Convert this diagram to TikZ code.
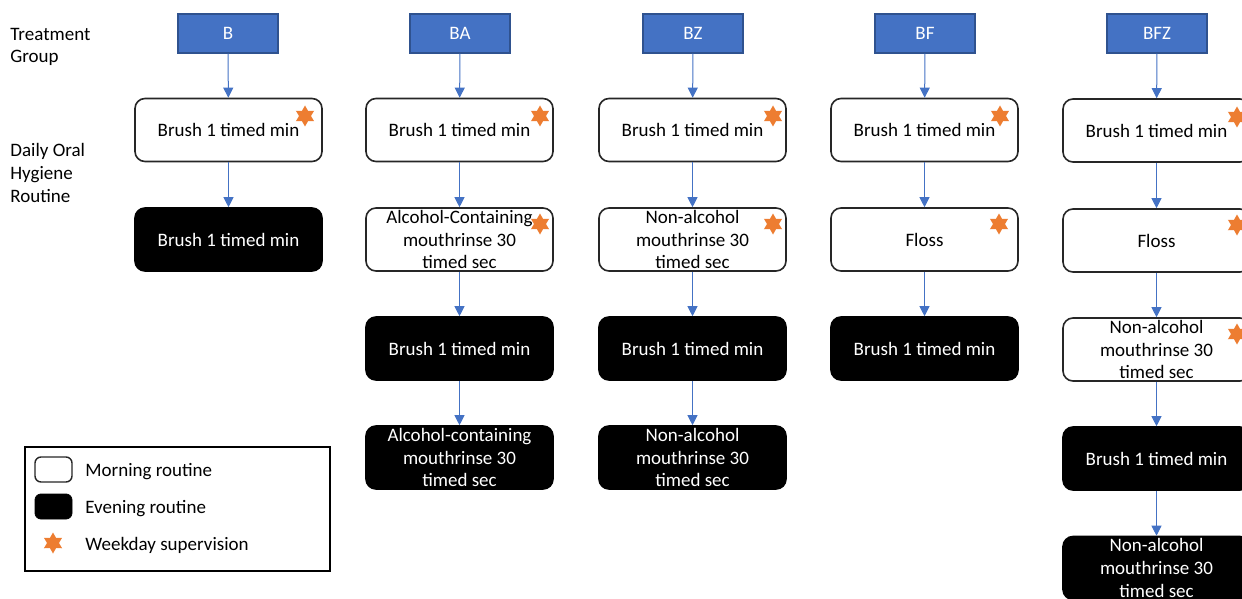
\documentclass[tikz,border=0pt]{standalone}
\usepackage{fontspec}
\setmainfont{Carlito}
\usetikzlibrary{shapes.geometric,arrows.meta}
\definecolor{grpblue}{HTML}{4472C4}
\definecolor{grpedge}{HTML}{2F528F}
\definecolor{starorange}{HTML}{ED7D31}
\definecolor{boxedge}{HTML}{262626}
\tikzset{
  txt/.style={font=\fontsize{9.5}{11.4}\selectfont},
  grp/.style={txt, rectangle, fill=grpblue, draw=grpedge, line width=0.6pt, text=white, minimum width=50pt, minimum height=19.5pt, inner sep=0pt},
  morn/.style={txt, rectangle, rounded corners=5pt, draw=boxedge, line width=0.8pt, fill=white, minimum width=93.5pt, minimum height=31.5pt, inner sep=0pt, align=center},
  eve/.style={txt, rectangle, rounded corners=5pt, draw=black, line width=0.8pt, fill=black, text=white, minimum width=93.5pt, minimum height=31.5pt, inner sep=0pt, align=center},
  supstar/.style={star, star points=6, star point ratio=1.75, fill=starorange, minimum size=10.5pt, inner sep=0pt},
  conn/.style={draw=grpblue, line width=0.5pt, -{Triangle[width=5pt,length=5pt]}},
  lbl/.style={txt, anchor=west, align=left, inner sep=0pt}
}
\begin{document}
\begin{tikzpicture}[x=0.5pt,y=-0.5pt]
\useasboundingbox (0,0) rectangle (1242,599);
% left labels
\node[lbl, font=\fontsize{9.5}{11}\selectfont, anchor=north west] (lblgroup) at (10,28) {Treatment\\Group};
\node[lbl, font=\fontsize{9.5}{11.5}\selectfont, anchor=north west] (lbldaily) at (10,143) {Daily Oral\\Hygiene\\Routine};
% group boxes
\node[grp] (gB) at (228,33.5) {B};
\node[grp] (gBA) at (460,33.5) {BA};
\node[grp] (gBZ) at (693,33.5) {BZ};
\node[grp] (gBF) at (925,33.5) {BF};
\node[grp] (gBFZ) at (1157,33.5) {BFZ};
% column B
\node[morn] (b1) at (228.5,130) {Brush 1 timed min};
\node[eve] (b2) at (228.5,239.5) {Brush 1 timed min};
% column BA
\node[morn] (ba1) at (459.5,130) {Brush 1 timed min};
\node[morn] (ba2) at (459.5,239.5) {Alcohol-Containing\\mouthrinse 30\\timed sec};
\node[eve] (ba3) at (459.5,348.5) {Brush 1 timed min};
\node[eve] (ba4) at (459.5,457.5) {Alcohol-containing\\mouthrinse 30\\timed sec};
% column BZ
\node[morn] (bz1) at (692.5,130) {Brush 1 timed min};
\node[morn] (bz2) at (692.5,239.5) {Non-alcohol\\mouthrinse 30\\timed sec};
\node[eve] (bz3) at (692.5,348.5) {Brush 1 timed min};
\node[eve] (bz4) at (692.5,457.5) {Non-alcohol\\mouthrinse 30\\timed sec};
% column BF
\node[morn] (bf1) at (924.5,130) {Brush 1 timed min};
\node[morn] (bf2) at (924.5,239.5) {Floss};
\node[eve] (bf3) at (924.5,348.5) {Brush 1 timed min};
% column BFZ
\node[morn] (bfz1) at (1156.5,130.5) {Brush 1 timed min};
\node[morn] (bfz2) at (1156.5,240.5) {Floss};
\node[morn] (bfz3) at (1156.5,349.5) {Non-alcohol\\mouthrinse 30\\timed sec};
\node[eve] (bfz4) at (1156.5,458.5) {Brush 1 timed min};
\node[eve] (bfz5) at (1156.5,568) {Non-alcohol\\mouthrinse 30\\timed sec};
% stars
\node[supstar] (sb1) at (305,116) {};
\node[supstar] (sba1) at (540,116) {};
\node[supstar] (sba2) at (540,224) {};
\node[supstar] (sbz1) at (773,116) {};
\node[supstar] (sbz2) at (773,224) {};
\node[supstar] (sbf1) at (1000,116) {};
\node[supstar] (sbf2) at (999,224) {};
\node[supstar] (sbfz1) at (1237,117) {};
\node[supstar] (sbfz2) at (1237,225) {};
\node[supstar] (sbfz3) at (1237,334) {};
% connectors
\draw[conn] (gB) -- (b1);
\draw[conn] (b1) -- (b2);
\draw[conn] (gBA) -- (ba1);
\draw[conn] (ba1) -- (ba2);
\draw[conn] (ba2) -- (ba3);
\draw[conn] (ba3) -- (ba4);
\draw[conn] (gBZ) -- (bz1);
\draw[conn] (bz1) -- (bz2);
\draw[conn] (bz2) -- (bz3);
\draw[conn] (bz3) -- (bz4);
\draw[conn] (gBF) -- (bf1);
\draw[conn] (bf1) -- (bf2);
\draw[conn] (bf2) -- (bf3);
\draw[conn] (gBFZ) -- (bfz1);
\draw[conn] (bfz1) -- (bfz2);
\draw[conn] (bfz2) -- (bfz3);
\draw[conn] (bfz3) -- (bfz4);
\draw[conn] (bfz4) -- (bfz5);
% legend
\node[draw=black, line width=0.7pt, minimum width=152.5pt, minimum height=62pt, inner sep=0pt] (legend) at (177.5,509) {};
\node[rectangle, rounded corners=3pt, draw=boxedge, line width=0.7pt, fill=white, minimum width=18.5pt, minimum height=12.5pt, inner sep=0pt] (legmorn) at (53.5,469.5) {};
\node[rectangle, rounded corners=3pt, draw=black, fill=black, minimum width=18.5pt, minimum height=12.5pt, inner sep=0pt] (legeve) at (53.5,506.5) {};
\node[supstar] (legstar) at (53,543) {};
\node[lbl] (legmorntxt) at (85,472) {Morning routine};
\node[lbl] (legevetxt) at (85,508.5) {Evening routine};
\node[lbl] (legstartxt) at (85,545) {Weekday supervision};
\end{tikzpicture}
\end{document}
